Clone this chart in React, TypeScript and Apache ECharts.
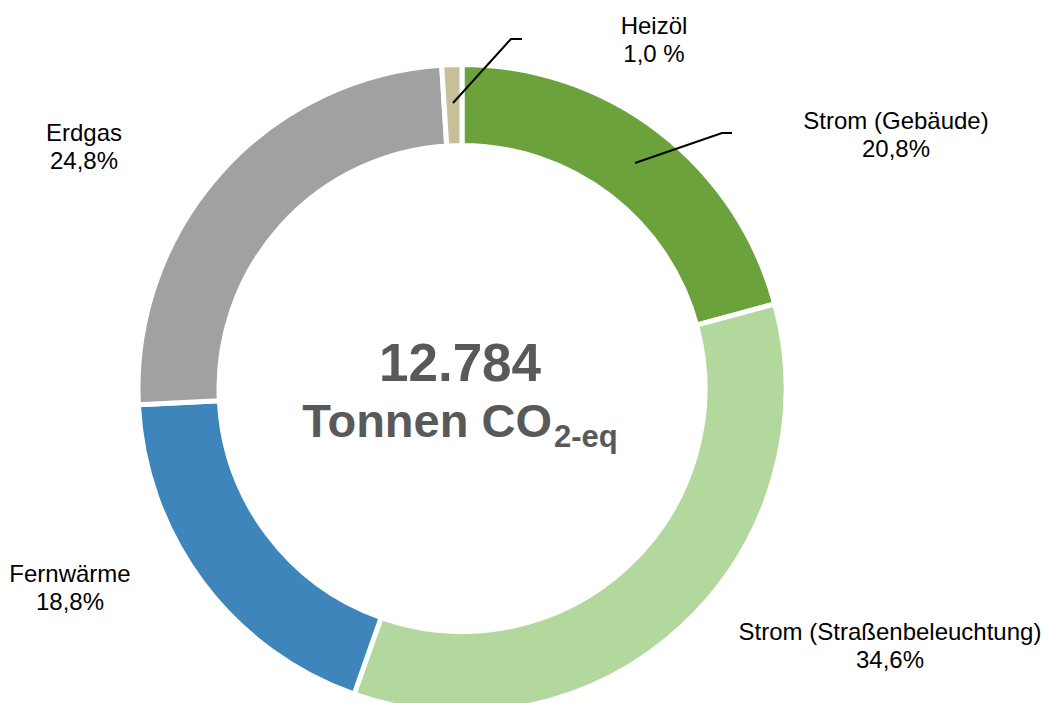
import React, { useEffect, useRef } from "react";
import * as echarts from "echarts";

const categories = ["Strom (Gebäude)", "Strom (Straßenbeleuchtung)", "Fernwärme", "Erdgas", "Heizöl"];
const values = [20.8, 34.6, 18.8, 24.8, 1.0];
const percentLabels = ["20,8%", "34,6%", "18,8%", "24,8%", "1,0 %"];
const colors = ["#6BA23C", "#B2D89E", "#3D85BA", "#A1A1A3", "#C7BE9A"];
const labelPositions = [
  [896, 134],
  [890, 645],
  [70, 587],
  [84, 146],
  [654, 39],
];
const totalText = "12.784";

export default function App() {
  const ref = useRef<HTMLDivElement>(null);
  useEffect(() => {
    if (!ref.current) return;
    const chart = echarts.init(ref.current, null, { renderer: "svg" });
    const font = "'Liberation Sans', Arial, sans-serif";
    chart.setOption({
      animation: false,
      backgroundColor: "#ffffff",
      series: [
        {
          type: "pie",
          center: [462, 388.5],
          radius: [243, 324],
          startAngle: 90,
          clockwise: true,
          avoidLabelOverlap: false,
          itemStyle: { borderColor: "#ffffff", borderWidth: 5 },
          label: {
            show: true,
            position: "outside",
            fontFamily: font,
            fontSize: 24,
            lineHeight: 28,
            color: "#000000",
            align: "center",
            formatter: (p: any) => `${p.name}\n${percentLabels[p.dataIndex]}`,
          },
          labelLine: { show: false },
          labelLayout: (p: any) => ({
            x: labelPositions[p.dataIndex][0],
            y: labelPositions[p.dataIndex][1],
            align: "center",
            verticalAlign: "middle",
          }),
          emphasis: { disabled: true },
          data: categories.map((c, i) => ({
            name: c,
            value: values[i],
            itemStyle: { color: colors[i] },
          })),
        },
      ],
      graphic: [
        {
          type: "text",
          x: 460,
          y: 362,
          z: 100,
          style: {
            text: totalText,
            font: `bold 53px ${font}`,
            fill: "#595959",
            align: "center",
            verticalAlign: "middle",
          },
        },
        {
          type: "text",
          x: 552,
          y: 420,
          z: 100,
          style: {
            text: "Tonnen CO",
            font: `bold 47px ${font}`,
            fill: "#595959",
            align: "right",
            verticalAlign: "middle",
          },
        },
        {
          type: "text",
          x: 554,
          y: 436,
          z: 100,
          style: {
            text: "2-eq",
            font: `bold 31px ${font}`,
            fill: "#595959",
            align: "left",
            verticalAlign: "middle",
          },
        },
        {
          type: "polyline",
          z: 100,
          shape: { points: [[453, 103], [511, 39], [522, 39]] },
          style: { stroke: "#000000", lineWidth: 2, fill: "none" },
        },
        {
          type: "polyline",
          z: 100,
          shape: { points: [[635, 163], [722, 133], [732, 133]] },
          style: { stroke: "#000000", lineWidth: 2, fill: "none" },
        },
      ],
    });
    return () => chart.dispose();
  }, []);
  return (
    <div
      ref={ref}
      style={{ position: "absolute", left: 0, top: 0, width: 1051, height: 703 }}
    />
  );
}
